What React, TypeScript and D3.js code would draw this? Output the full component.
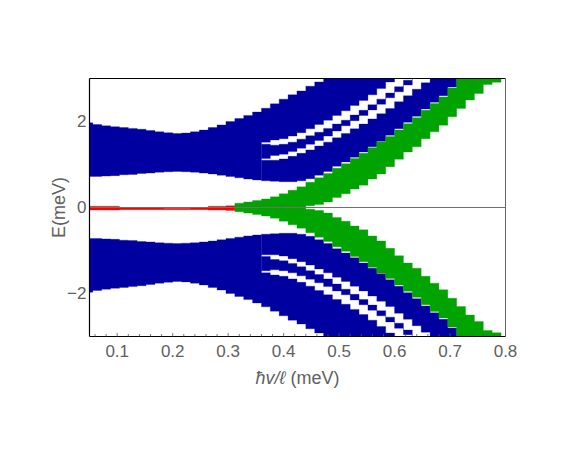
import { useMemo } from "react";
import * as d3 from "d3";

const WIDTH = 581;
const HEIGHT = 449;
const MARGIN = { top: 78.5, right: 75.5, bottom: 112.5, left: 89.5 };

// column centres of the spectrum (x = hbar v / l, meV)
const colX = [
  0.048, 0.064, 0.08, 0.096, 0.112, 0.128, 0.144, 0.16, 0.176, 0.192, 0.208, 0.224,
  0.24, 0.256, 0.272, 0.288, 0.304, 0.32, 0.336, 0.352, 0.368, 0.384, 0.4, 0.416,
  0.432, 0.448, 0.464, 0.48, 0.496, 0.512, 0.528, 0.544, 0.56, 0.576, 0.592, 0.608,
  0.624, 0.64, 0.656, 0.672, 0.688, 0.704, 0.72, 0.736, 0.752, 0.768, 0.784, 0.8,
];
const HALF = 0.008;

// blue continuum / upper mass, columns 0..34 (E > 0, mirrored below)
const massLo = [
  0.72, 0.72, 0.73, 0.74, 0.76, 0.77, 0.79, 0.8, 0.82, 0.83, 0.84, 0.83, 0.82, 0.8,
  0.78, 0.75, 0.72, 0.69, 0.66, 0.64, 1.52, 1.57, 1.6, 1.66, 1.74, 1.83, 1.93, 2.03,
  2.14, 2.25, 2.37, 2.49, 2.62, 2.77, 2.92,
];
const massHi = [
  1.97, 1.93, 1.9, 1.88, 1.86, 1.84, 1.82, 1.79, 1.76, 1.74, 1.72, 1.73, 1.76, 1.8,
  1.86, 1.92, 2.0, 2.07, 2.14, 2.22, 2.31, 2.41, 2.52, 2.62, 2.71, 2.82, 2.92, 3.0,
  3.1, 3.1, 3.1, 3.1, 3.1, 3.1, 3.1,
];

// lowest blue level, columns 20..41
const band1Lo = [
  0.62, 0.61, 0.6, 0.6, 0.62, 0.67, 0.75, 0.84, 0.96, 1.06, 1.17, 1.29, 1.41, 1.54,
  1.68, 1.83, 1.98, 2.12, 2.29, 2.45, 2.6, 2.8,
];
const band1Hi = [
  1.1, 1.1, 1.13, 1.19, 1.26, 1.34, 1.43, 1.52, 1.62, 1.72, 1.83, 1.94, 2.06, 2.18,
  2.3, 2.46, 2.6, 2.75, 2.9, 3.1, 3.1, 3.1,
];

// second (thin) blue level, columns 20..37
const band2Lo = [
  1.14, 1.21, 1.24, 1.3, 1.38, 1.47, 1.56, 1.66, 1.78, 1.9, 2.02, 2.14, 2.27, 2.4,
  2.55, 2.69, 2.85, 3.0,
];
const band2Hi = [
  1.47, 1.45, 1.47, 1.52, 1.59, 1.67, 1.75, 1.84, 1.94, 2.03, 2.15, 2.26, 2.39, 2.52,
  2.66, 2.81, 2.96, 3.1,
];

// green zero level, columns 17..46
const greenLo = [
  0, 0, 0, 0, 0, 0, 0, 0, 0.04, 0.07, 0.13, 0.23, 0.32, 0.43, 0.52, 0.66, 0.78, 0.95,
  1.12, 1.29, 1.41, 1.6, 1.76, 1.91, 2.11, 2.3, 2.5, 2.65, 2.86, 2.91,
];
const greenHi = [
  0.1, 0.13, 0.16, 0.2, 0.25, 0.32, 0.4, 0.48, 0.59, 0.69, 0.79, 0.91, 1.02, 1.14,
  1.26, 1.39, 1.53, 1.65, 1.8, 1.95, 2.09, 2.26, 2.42, 2.57, 2.78, 3.1, 3.1, 3.1,
  3.1, 3.1,
];

// red flat band near zero, columns 0..16
const redLo = [
  -0.06, -0.06, -0.06, -0.06, -0.05, -0.05, -0.05, -0.05, -0.05, -0.05, -0.05, -0.05,
  -0.05, -0.05, -0.06, -0.06, -0.07,
];
const redHi = [
  0.03, 0.03, 0.03, 0.03, 0.0, 0.0, 0.0, 0.0, 0.0, -0.02, -0.02, -0.02, 0.0, 0.0, 0.03,
  0.03, 0.04,
];

const xTicks = [0.1, 0.2, 0.3, 0.4, 0.5, 0.6, 0.7, 0.8];
const yTicks = [-2, 0, 2];

const BLUE = "#0000a0";
const GREEN = "#00a300";
const RED = "#ff0000";

const bands = [
  { start: 0, lo: massLo, hi: massHi, color: BLUE, mirror: true },
  { start: 20, lo: band1Lo, hi: band1Hi, color: BLUE, mirror: true },
  { start: 20, lo: band2Lo, hi: band2Hi, color: BLUE, mirror: true },
  { start: 17, lo: greenLo, hi: greenHi, color: GREEN, mirror: true },
  { start: 0, lo: redLo, hi: redHi, color: RED, mirror: false },
];

const App = () => {
  const boundsW = WIDTH - MARGIN.left - MARGIN.right;
  const boundsH = HEIGHT - MARGIN.top - MARGIN.bottom;

  const xScale = useMemo(
    () => d3.scaleLinear().domain([0.05, 0.8]).range([0, boundsW]),
    [boundsW]
  );
  const yScale = useMemo(
    () => d3.scaleLinear().domain([-3, 3]).range([boundsH, 0]),
    [boundsH]
  );

  const area = d3
    .area<{ x: number; lo: number; hi: number }>()
    .x((d) => xScale(d.x))
    .y0((d) => yScale(d.lo))
    .y1((d) => yScale(d.hi));

  // each column is a flat step, mirrored bands are drawn for E < 0 too
  const paths: { d: string; color: string }[] = [];
  bands.forEach((b) => {
    const signs = b.mirror ? [1, -1] : [1];
    signs.forEach((s) => {
      const pts: { x: number; lo: number; hi: number }[] = [];
      b.lo.forEach((lo, k) => {
        const c = colX[b.start + k];
        const hi = b.hi[k];
        pts.push({ x: c - HALF, lo: s * lo, hi: s * hi });
        pts.push({ x: c + HALF, lo: s * lo, hi: s * hi });
      });
      paths.push({ d: area(pts) || "", color: b.color });
    });
  });

  const minorTicks = d3.range(0.06, 0.8001, 0.02);

  return (
    <svg
      width={WIDTH}
      height={HEIGHT}
      style={{ position: "absolute", left: 0, top: 0, background: "#fff" }}
      fontFamily="'Liberation Sans', Arial, sans-serif"
    >
      <defs>
        <clipPath id="plotClip">
          <rect x={0} y={0} width={boundsW} height={boundsH} />
        </clipPath>
      </defs>
      <g transform={`translate(${MARGIN.left},${MARGIN.top})`}>
        <g clipPath="url(#plotClip)">
          {paths.map((p, i) => (
            <path key={i} d={p.d} fill={p.color} stroke={p.color} strokeWidth={0.3} />
          ))}
          <line x1={0} x2={boundsW} y1={yScale(0)} y2={yScale(0)} stroke="#707070" strokeWidth={1} />
        </g>

        {/* frame */}
        <line x1={0} x2={boundsW} y1={0} y2={0} stroke="#000" strokeWidth={1.2} />
        <line x1={boundsW} x2={boundsW} y1={0} y2={boundsH} stroke="#666" strokeWidth={1} />
        <line x1={0} x2={0} y1={0} y2={boundsH} stroke="#000" strokeWidth={1.2} />
        <line x1={0} x2={boundsW} y1={boundsH} y2={boundsH} stroke="#000" strokeWidth={1.2} />

        {minorTicks.map((t, i) => (
          <line
            key={i}
            x1={xScale(t)}
            x2={xScale(t)}
            y1={boundsH}
            y2={boundsH - (Math.abs(t * 10 - Math.round(t * 10)) < 1e-6 ? 3.5 : 2.5)}
            stroke="#555"
            strokeWidth={0.8}
          />
        ))}

        {xTicks.map((t) => (
          <text key={t} x={xScale(t)} y={boundsH + 20} textAnchor="middle" fontSize={17} fill="#606060">
            {t.toFixed(1)}
          </text>
        ))}
        {yTicks.map((t) => (
          <text
            key={t}
            x={-3}
            y={yScale(t)}
            textAnchor="end"
            dominantBaseline="central"
            fontSize={17}
            fill="#606060"
          >
            {t < 0 ? `\u2212${Math.abs(t)}` : t}
          </text>
        ))}

        <text
          transform={`translate(${-31},${boundsH / 2}) rotate(-90)`}
          textAnchor="middle"
          dominantBaseline="central"
          fontSize={18}
          fill="#606060"
        >
          E(meV)
        </text>
        <text x={boundsW / 2} y={boundsH + 47} textAnchor="middle" fontSize={18} fill="#606060">
          <tspan fontStyle="italic">ħv/ℓ</tspan> (meV)
        </text>
      </g>
    </svg>
  );
};

export default App;
